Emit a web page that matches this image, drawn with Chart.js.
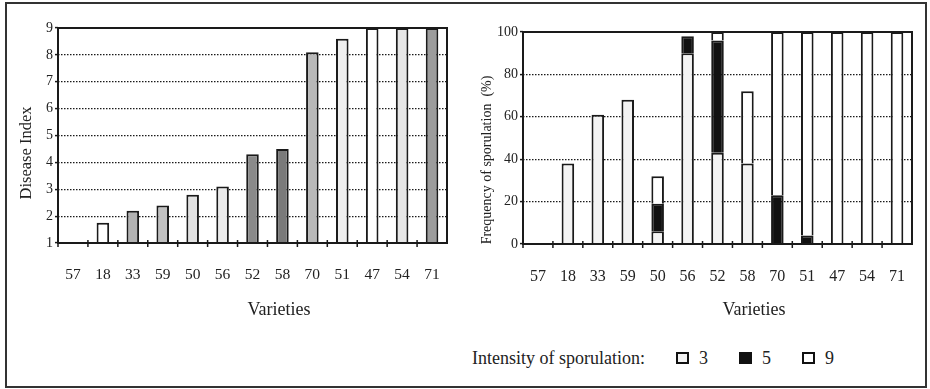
<!DOCTYPE html>
<html>
<head>
<meta charset="utf-8">
<script src="https://cdn.jsdelivr.net/npm/chart.js@4.4.1/dist/chart.umd.min.js"></script>
<style>
  html, body { margin: 0; padding: 0; background: #fff; }
  body { width: 930px; height: 389px; position: relative; overflow: hidden;
         font-family: "Liberation Serif", "Times New Roman", serif; color: #222; }
  #frame { position: absolute; left: 5px; top: 2px; width: 922px; height: 386px;
           box-sizing: border-box; border: 2px solid #333; pointer-events: none; }
  .pane { position: absolute; top: 0; }
  #legend { position: absolute; left: 472px; top: 346px; height: 24px;
            display: flex; align-items: center; font-size: 18px; white-space: nowrap; }
  #legend .item { display: flex; align-items: center; margin-left: 31px; }
  #legend .box { width: 13px; height: 12px; box-sizing: border-box;
                 border: 2px solid #111; margin-right: 10px; }
</style>
</head>
<body>
<canvas id="indexChart" class="pane" style="left:0" width="465" height="330"></canvas>
<canvas id="sporChart" class="pane" style="left:465px" width="465" height="330"></canvas>
<div id="legend"></div>
<div id="frame"></div>
<script>
// Varieties, in the order shown on both charts
const varieties = ['57', '18', '33', '59', '50', '56', '52', '58', '70', '51', '47', '54', '71'];

// Disease index (scale 1–9)
const diseaseIndex = [1, 1.75, 2.2, 2.4, 2.8, 3.1, 4.3, 4.5, 8.1, 8.6, 9, 9, 9];

// Frequency of sporulation (%) split by intensity class
const intensityLabels = ['3', '5', '9'];
const sporInt3 = [0, 38, 61, 68, 6, 90, 43, 38, 0, 0, 0, 0, 0];
const sporInt5 = [0, 0, 0, 0, 13, 8, 53, 0, 23, 4, 0, 0, 0];
const sporInt9 = [0, 0, 0, 0, 13, 0, 4, 34, 77, 96, 100, 100, 100];

// Bar shading
const indexFills = ['#ffffff', '#ffffff', '#b3b3b3', '#c0c0c0', '#e2e2e2', '#ebebeb',
                    '#8a8a8a', '#7a7a7a', '#b8b8b8', '#efefef', '#ffffff', '#e6e6e6', '#9c9c9c'];
const intensityFills = ['#f3f3f3', '#111111', '#ffffff'];

const INK = '#1a1a1a';
const SERIF = '"Liberation Serif", "Times New Roman", serif';
Chart.defaults.font.family = SERIF;
Chart.defaults.color = '#222';

// Frame around the plot, short category ticks across the axis, and axis titles
const paneDecor = {
  id: 'paneDecor',
  afterDatasetsDraw(chart) {
    const { ctx, chartArea: a, scales: { x } } = chart;
    const n = chart.data.labels.length;
    const step = x.getPixelForValue(1) - x.getPixelForValue(0);
    ctx.save();
    ctx.strokeStyle = INK;
    ctx.lineWidth = 2;
    ctx.strokeRect(a.left, a.top, a.right - a.left, a.bottom - a.top);
    ctx.lineWidth = 1.5;
    ctx.beginPath();
    for (let i = 0; i < n; i++) {
      const px = x.getPixelForValue(i) - step / 2;
      ctx.moveTo(px, a.bottom - 3);
      ctx.lineTo(px, a.bottom + 4);
    }
    ctx.stroke();
    ctx.restore();
  },
  afterDraw(chart, args, opts) {
    const { ctx } = chart;
    ctx.save();
    ctx.fillStyle = '#222';
    ctx.textAlign = 'center';
    ctx.textBaseline = 'middle';
    const xt = opts.xTitle;
    ctx.font = `${xt.size}px ${SERIF}`;
    ctx.fillText(xt.text, xt.x, xt.y);
    const yt = opts.yTitle;
    ctx.translate(yt.x, yt.y);
    ctx.rotate(-Math.PI / 2);
    ctx.font = `${yt.size}px ${SERIF}`;
    ctx.fillText(yt.text, 0, 0);
    ctx.restore();
  }
};

function valueAxis(min, max, step) {
  return {
    min, max,
    ticks: { stepSize: step, font: { size: 14 }, padding: 2, color: '#222' },
    grid: {
      color: c => (c.tick && (c.tick.value === min || c.tick.value === max)) ? 'rgba(0,0,0,0)' : INK,
      lineWidth: 1.2,
      drawTicks: true,
      tickLength: 3,
      tickColor: INK,
      tickWidth: 1.5,
      tickBorderDash: []
    },
    border: { display: false, dash: [1.5, 1.5] },
    afterFit(s) { s.width = 58; }
  };
}

function categoryAxis(fontSize) {
  return {
    stacked: true,
    grid: { display: false },
    border: { display: false },
    ticks: { font: { size: fontSize }, padding: 15, color: '#222', autoSkip: false, maxRotation: 0 },
    afterFit(s) { s.height = 87; }
  };
}

// Disease index chart
new Chart(document.getElementById('indexChart'), {
  type: 'bar',
  data: {
    labels: varieties,
    datasets: [{
      label: 'Disease Index',
      data: diseaseIndex,
      backgroundColor: indexFills,
      borderColor: INK,
      borderWidth: c => (c.raw > 1 ? 2 : 0),
      barPercentage: 0.42,
      categoryPercentage: 1
    }]
  },
  options: {
    responsive: false,
    animation: false,
    devicePixelRatio: 1,
    layout: { padding: { left: 0, right: 18, top: 28, bottom: 0 } },
    scales: {
      x: categoryAxis(15.5),
      y: valueAxis(1, 9, 1)
    },
    plugins: {
      legend: { display: false },
      tooltip: { enabled: false },
      paneDecor: {
        xTitle: { text: 'Varieties', x: 279, y: 310, size: 18 },
        yTitle: { text: 'Disease Index', x: 27, y: 153, size: 16.5 }
      }
    }
  },
  plugins: [paneDecor]
});

// Sporulation frequency chart, stacked by intensity
const sporSeries = [sporInt3, sporInt5, sporInt9];
new Chart(document.getElementById('sporChart'), {
  type: 'bar',
  data: {
    labels: varieties,
    datasets: sporSeries.map((vals, i) => ({
      label: intensityLabels[i],
      data: vals,
      backgroundColor: intensityFills[i],
      borderColor: INK,
      borderWidth: c => (c.raw > 0 ? 2 : 0),
      barPercentage: 0.42,
      categoryPercentage: 1
    }))
  },
  options: {
    responsive: false,
    animation: false,
    devicePixelRatio: 1,
    layout: { padding: { left: 0, right: 18, top: 32, bottom: 0 } },
    scales: {
      x: Object.assign(categoryAxis(16), { afterFit(s) { s.height = 86; } }),
      y: Object.assign(valueAxis(0, 100, 20), { stacked: true })
    },
    plugins: {
      legend: { display: false },
      tooltip: { enabled: false },
      paneDecor: {
        xTitle: { text: 'Varieties', x: 289, y: 310, size: 18 },
        yTitle: { text: 'Frequency of sporulation  (%)', x: 22, y: 160, size: 14 }
      }
    }
  },
  plugins: [paneDecor]
});

// Legend for sporulation intensity
const legend = document.getElementById('legend');
const caption = document.createElement('span');
caption.textContent = 'Intensity of sporulation:';
legend.appendChild(caption);
intensityLabels.forEach((lab, i) => {
  const item = document.createElement('span');
  item.className = 'item';
  const box = document.createElement('span');
  box.className = 'box';
  box.style.background = intensityFills[i];
  const txt = document.createElement('span');
  txt.textContent = lab;
  item.appendChild(box);
  item.appendChild(txt);
  legend.appendChild(item);
});
</script>
</body>
</html>
